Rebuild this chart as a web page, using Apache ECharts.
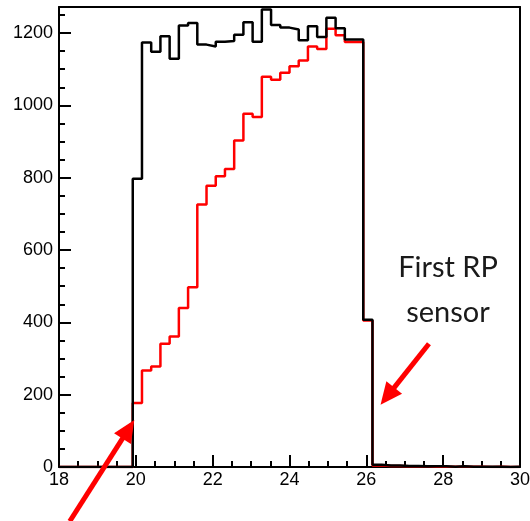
<!DOCTYPE html>
<html>
<head>
<meta charset="utf-8">
<title>Vertex position</title>
<script src="https://cdn.jsdelivr.net/npm/echarts@6/dist/echarts.min.js"></script>
<style>
  html, body { margin: 0; padding: 0; background: #fff; }
  #chart, #measure { width: 530px; height: 521px; }
  #measure { position: absolute; left: 0; top: 0; visibility: hidden; }
</style>
</head>
<body>
<div id="chart"></div>
<div id="measure"></div>
<script>
// binning of the histograms (Z in m)
const binStart = 19.92
const binWidth = 0.24

// all vertices (black) and accepted ones (red), one value per bin
const allCounts = [797, 1174, 1148, 1191, 1129, 1221, 1228, 1168, 1163, 1176, 1178, 1195, 1230,
  1176, 1265, 1222, 1215, 1210, 1180, 1219, 1189, 1242, 1213, 1182, 1182, 407,
  6, 4, 4, 3, 3, 2, 2, 2, 1, 2, 1, 1, 1, 1, 0, 1]
const redCounts = [177, 267, 278, 341, 361, 440, 497, 726, 778, 804, 824, 903, 977,
  968, 1079, 1071, 1090, 1108, 1124, 1163, 1156, 1212, 1194, 1175, 1175, 405,
  4, 3, 3, 2, 2, 2, 1, 1, 1, 1, 1, 1, 0, 1, 0, 0]

const yMajorTicks = [0, 200, 400, 600, 800, 1000, 1200]
const yMinorTicks = [50, 100, 150, 250, 300, 350, 450, 500, 550, 650, 700, 750,
  850, 900, 950, 1050, 1100, 1150, 1250]
const yMax = 1272

// arrows: [tail, tip] in data coordinates
const arrowSensor = [[27.63, 341], [26.37, 172]]
const arrowStart = [[18.28, -150], [19.96, 130]]

// step points: one per bin low edge, plus closing point
function stepPoints (counts) {
  let pts = [[18, 0]]
  counts.forEach((v, i) => {
    pts.push([+(binStart + i * binWidth).toFixed(3), v])
  })
  pts.push([+(binStart + counts.length * binWidth).toFixed(3), counts[counts.length - 1]])
  return pts
}

const labelFont = 'Liberation Sans, Arial, Helvetica, sans-serif'
const axisLineStyle = { color: '#000', width: 2 }

// axis that only draws the frame line (top / right)
function frameAxis (extra) {
  return Object.assign({
    type: 'value',
    axisLine: { show: true, onZero: false, lineStyle: axisLineStyle },
    axisTick: { show: false },
    axisLabel: { show: false },
    splitLine: { show: false }
  }, extra)
}

function baseOption () {
  return {
    animation: false,
    backgroundColor: '#fff',
    grid: {
      left: 59,
      right: 10,
      top: 7,
      bottom: 54,
      show: false,
      containLabel: false,
      outerBoundsMode: 'none'
    },
    xAxis: [
      {
        type: 'value',
        min: 18,
        max: 30,
        interval: 2,
        position: 'bottom',
        axisLine: { show: true, onZero: false, lineStyle: axisLineStyle },
        axisTick: { show: true, inside: true, length: 12, lineStyle: { color: '#000', width: 2 } },
        minorTick: { show: true, splitNumber: 4, length: 6, lineStyle: { color: '#000', width: 2 } },
        splitLine: { show: false },
        minorSplitLine: { show: false },
        axisLabel: { show: true, color: '#000', fontSize: 18, fontFamily: labelFont, margin: 4 },
        name: 'Vertex Postion, Z [m]',
        nameLocation: 'end',
        nameGap: -1,
        nameTextStyle: {
          color: '#000',
          fontSize: 24,
          fontFamily: labelFont,
          align: 'right',
          verticalAlign: 'top',
          padding: [21, 0, 0, 0]
        }
      },
      frameAxis({ min: 18, max: 30, position: 'top' })
    ],
    yAxis: [
      {
        type: 'value',
        min: 0,
        max: yMax,
        position: 'left',
        axisLine: { show: true, onZero: false, lineStyle: axisLineStyle },
        axisTick: { show: true, inside: true, length: 12, customValues: yMajorTicks, lineStyle: { color: '#000', width: 2 } },
        axisLabel: {
          show: true,
          color: '#000',
          fontSize: 18,
          fontFamily: labelFont,
          margin: 6,
          customValues: yMajorTicks,
          formatter: v => String(v)
        },
        splitLine: { show: false }
      },
      {
        type: 'value',
        min: 0,
        max: yMax,
        position: 'left',
        axisLine: { show: false },
        axisTick: { show: true, inside: true, length: 6, customValues: yMinorTicks, lineStyle: { color: '#000', width: 2 } },
        axisLabel: { show: false },
        splitLine: { show: false }
      },
      frameAxis({ min: 0, max: yMax, position: 'right' })
    ],
    series: [
      {
        name: 'all',
        type: 'line',
        step: 'end',
        symbol: 'none',
        z: 3,
        lineStyle: { color: '#000', width: 2.5 },
        data: stepPoints(allCounts)
      },
      {
        name: 'selected',
        type: 'line',
        step: 'end',
        symbol: 'none',
        z: 2,
        lineStyle: { color: '#ff0000', width: 2.5 },
        data: stepPoints(redCounts)
      }
    ]
  }
}

// lay the chart out once off-screen to turn data coords into pixels
let measure = echarts.init(document.getElementById('measure'))
measure.setOption(baseOption())
function toPx (p) {
  return measure.convertToPixel({ xAxisIndex: 0, yAxisIndex: 0 }, p)
}

function arrow (pair) {
  let p0 = toPx(pair[0])
  let p1 = toPx(pair[1])
  let dx = p1[0] - p0[0]
  let dy = p1[1] - p0[1]
  let len = Math.sqrt(dx * dx + dy * dy)
  let ux = dx / len
  let uy = dy / len
  let headLen = 22
  let headW = 10
  let bx = p1[0] - ux * headLen
  let by = p1[1] - uy * headLen
  return [
    {
      type: 'line',
      shape: { x1: p0[0], y1: p0[1], x2: bx + ux * 2, y2: by + uy * 2 },
      style: { stroke: '#ff0000', lineWidth: 5 },
      z: 10
    },
    {
      type: 'polygon',
      shape: { points: [[p1[0], p1[1]], [bx - uy * headW, by + ux * headW], [bx + uy * headW, by - ux * headW]] },
      style: { fill: '#ff0000' },
      z: 10
    }
  ]
}

let elements = [].concat(arrow(arrowSensor)).concat(arrow(arrowStart))
elements.push({
  type: 'text',
  x: 448,
  y: 290,
  z: 10,
  style: {
    text: 'First RP\nsensor',
    fill: '#1a1a1a',
    font: '29px Lato, "Open Sans", sans-serif',
    lineHeight: 45,
    align: 'center',
    verticalAlign: 'middle'
  }
})
measure.dispose()

// single setOption for the visible chart
let myChart = echarts.init(document.getElementById('chart'))
let option = baseOption()
option.graphic = { elements: elements }
myChart.setOption(option)
</script>
</body>
</html>
